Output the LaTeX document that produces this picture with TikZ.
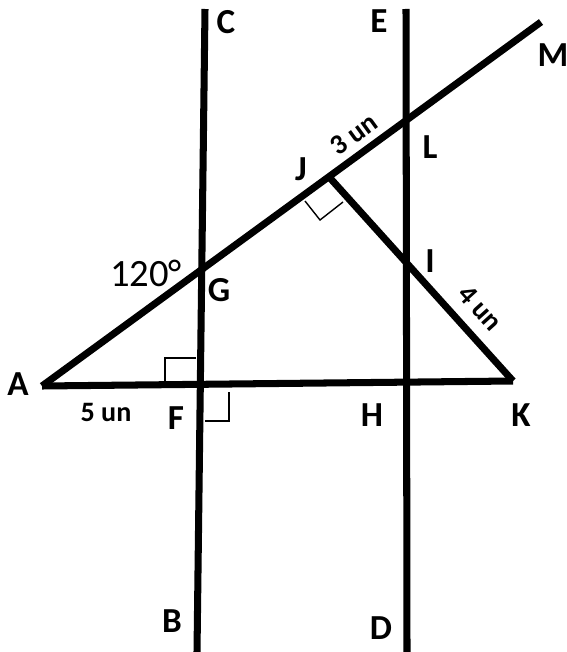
\documentclass[tikz,border=0pt]{standalone}
\usepackage{fontspec}
\setmainfont{Carlito}
\begin{document}
\begin{tikzpicture}[x=0.02cm,y=-0.02cm,
    lbl/.style={font=\bfseries\fontsize{20}{20}\selectfont},
    len/.style={font=\bfseries\fontsize{16}{16}\selectfont}]
    \useasboundingbox (0,0) rectangle (566,652);
    % points
    \coordinate (C) at (205,9);
    \coordinate (B) at (197,652);
    \coordinate (E) at (406,9);
    \coordinate (D) at (407,652);
    \coordinate (A) at (42,386);
    \coordinate (M) at (541,22);
    \coordinate (K) at (513,381);
    \coordinate (J) at (330,178);
    % lines
    \draw[line width=4pt] (C) -- (B);
    \draw[line width=4pt] (E) -- (D);
    \draw[line width=4pt] (A) -- (M);
    \draw[line width=4pt] (A) -- (K);
    \draw[line width=4pt] (J) -- (K);
    % right angles
    \draw[line width=0.8pt] (165,383) -- (165,358) -- (196,358);
    \draw[line width=0.8pt] (205,421) -- (229,421) -- (229,392);
    \draw[line width=0.8pt] (305,201) -- (320,220) -- (343,202);
    % labels
    \node[lbl] at (226,22) {C};
    \node[lbl] at (379,21) {E};
    \node[lbl] at (553,55) {M};
    \node[lbl] at (430,147) {L};
    \node[lbl] at (301,169) {J};
    \node[lbl] at (430,261) {I};
    \node[lbl] at (219,290) {G};
    \node[lbl] at (18,384) {A};
    \node[lbl] at (176,418) {F};
    \node[lbl] at (372,415) {H};
    \node[lbl] at (521,415) {K};
    \node[lbl] at (172,621) {B};
    \node[lbl] at (381,628) {D};
    \node[font=\fontsize{22}{22}\selectfont] at (146,273) {120°};
    \node[len] at (106,412) {5 un};
    \node[len,rotate=36] at (354,134) {3 un};
    \node[len,rotate=-48] at (480,308) {4 un};
\end{tikzpicture}
\end{document}
